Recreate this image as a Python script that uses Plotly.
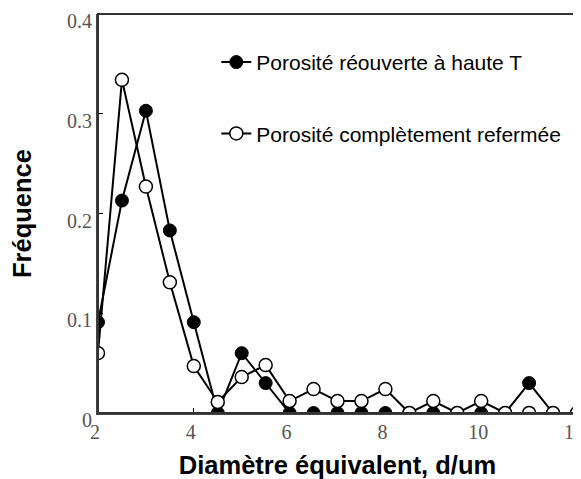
import plotly.graph_objects as go

diametre = [2, 2.5, 3, 3.5, 4, 4.5, 5, 5.5, 6, 6.5, 7, 7.5, 8, 8.5, 9, 9.5, 10, 10.5, 11, 11.5, 12]
reouverte = [0.091, 0.213, 0.303, 0.183, 0.091, 0.0, 0.060, 0.030, 0.0, 0.0, 0.0, 0.0, 0.0,
             0.0, 0.0, 0.0, 0.0, 0.0, 0.030, 0.0, 0.0]
refermee = [0.060, 0.334, 0.227, 0.131, 0.047, 0.011, 0.036, 0.048, 0.012, 0.024, 0.012, 0.012, 0.024,
            0.0, 0.012, 0.0, 0.012, 0.0, 0.0, 0.0, 0.0]
y_ticks = [0, 0.1, 0.2, 0.3, 0.4]
y_labels = ["0", "0.1", "0.2", "0.3", "0.4"]
x_ticks = [2, 4, 6, 8, 10, 12]

fig = go.Figure()
fig.add_trace(go.Scatter(
    x=diametre, y=reouverte, mode="lines+markers",
    name="Porosité réouverte à haute T",
    line=dict(color="black", width=2),
    marker=dict(symbol="circle", size=13, color="black", line=dict(color="black", width=1)),
    legendgroup="a",
))
fig.add_trace(go.Scatter(
    x=diametre, y=refermee, mode="lines+markers",
    name="Porosité complètement refermée",
    line=dict(color="black", width=2),
    marker=dict(symbol="circle", size=13, color="white", line=dict(color="black", width=1.5)),
    legendgroup="b",
))

tick_font = dict(family="Liberation Serif", size=20, color="#555555")
title_font = dict(family="Liberation Sans", size=25.5, color="black")

# the page body adds an 8px offset; margins chosen so the plot area lands where the reference has it
fig.update_layout(
    width=581, height=479,
    margin=dict(l=90, r=12, t=6, b=74),
    paper_bgcolor="white", plot_bgcolor="white",
    showlegend=True,
    legend=dict(
        x=0.247, y=0.93, xanchor="left", yanchor="top",
        bgcolor="rgba(0,0,0,0)", borderwidth=0,
        font=dict(family="Liberation Sans", size=21, color="black"),
        tracegroupgap=41,
    ),
    shapes=[dict(type="rect", xref="paper", yref="paper", x0=0, y0=0, x1=1, y1=1,
                 line=dict(color="#333333", width=2), layer="above")],
    xaxis=dict(
        range=[2, 12], tickvals=x_ticks, ticks="inside", ticklen=5, tickcolor="black",
        showline=True, linecolor="#444444", linewidth=2, automargin=False,
        ticklabeloverflow="allow", ticklabelshift=-3,
        showgrid=False, zeroline=False, tickfont=tick_font,
        title=dict(text="<b>Diamètre équivalent, d/um</b>", font=title_font, standoff=14),
    ),
    yaxis=dict(
        range=[0, 0.4], tickvals=y_ticks, ticktext=y_labels, ticks="inside", ticklen=5,
        tickcolor="black", automargin=False, ticklabeloverflow="allow", ticklabelshift=7,
        showline=True, linecolor="#444444", linewidth=2,
        showgrid=False, zeroline=False, tickfont=tick_font,
        title=dict(text="<b>Fréquence</b>", font=title_font, standoff=29),
    ),
)

fig.write_html("out.html")
